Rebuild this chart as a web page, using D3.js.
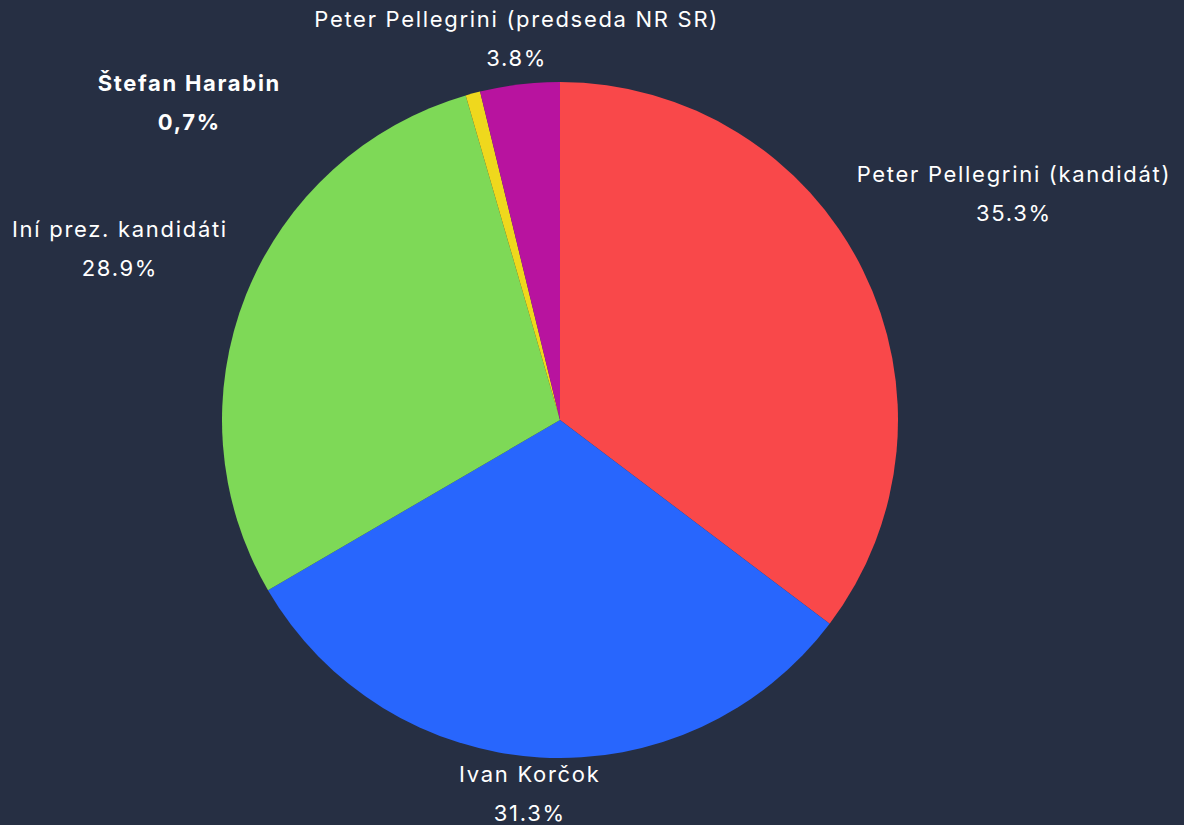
<!DOCTYPE html>
<html>
<head>
<meta charset="utf-8">
<script src="https://cdn.jsdelivr.net/npm/d3@7"></script>
<style>
  html, body { margin: 0; padding: 0; background: #262f43; }
  svg { display: block; }
</style>
</head>
<body>
<div id="chart"></div>
<script>
// Data
const names = ["Peter Pellegrini (kandidát)", "Ivan Korčok", "Iní prez. kandidáti", "Štefan Harabin", "Peter Pellegrini (predseda NR SR)"];
const values = [35.3, 31.3, 28.9, 0.7, 3.8];
const valueLabels = ["35.3%", "31.3%", "28.9%", "0,7%", "3.8%"];
const colors = ["#f9484a", "#2866fd", "#7ed957", "#efd81d", "#b8139f"];
const bold = [false, false, false, true, false];

const width = 1184, height = 825;
const cx = 560, cy = 420, radius = 338;

const svg = d3.select("#chart").append("svg")
  .attr("width", width)
  .attr("height", height);

svg.append("rect")
  .attr("width", width)
  .attr("height", height)
  .attr("fill", "#262f43");

const pie = d3.pie().sort(null).value(d => d.value);
const arc = d3.arc().innerRadius(0).outerRadius(radius);

const data = names.map((n, i) => ({ name: n, value: values[i], label: valueLabels[i], color: colors[i], bold: bold[i] }));
const arcs = pie(data);

const g = svg.append("g").attr("transform", `translate(${cx},${cy})`);

g.selectAll("path")
  .data(arcs)
  .enter()
  .append("path")
  .attr("d", arc)
  .attr("fill", d => d.data.color);

// Labels: placed on the mid angle at 1.5 x radius, then pushed into the frame
const labelArc = d3.arc().innerRadius(radius * 1.5).outerRadius(radius * 1.5);
// nudges for crowded labels near the top / left
const nudge = {
  "Štefan Harabin": [-240, 64],
  "Peter Pellegrini (predseda NR SR)": [17, 0],
  "Iní prez. kandidáti": [0, 17]
};

const labels = svg.append("g")
  .style("font-family", "Inter, 'Open Sans', sans-serif")
  .style("font-size", "22px")
  .style("letter-spacing", "1.7px")
  .style("fill", "#ffffff");

arcs.forEach(d => {
  const [lx, ly] = labelArc.centroid(d);
  const lab = labels.append("g");
  const t1 = lab.append("text")
    .attr("text-anchor", "middle")
    .attr("y", -12)
    .style("font-weight", d.data.bold ? 700 : 400)
    .text(d.data.name);
  lab.append("text")
    .attr("text-anchor", "middle")
    .attr("y", 27)
    .style("font-weight", d.data.bold ? 700 : 400)
    .text(d.data.label);

  const half = t1.node().getComputedTextLength() / 2;
  let x = cx + lx, y = cy + ly;
  x = Math.max(half + 12, Math.min(width - half - 4, x));
  y = Math.max(39, Math.min(794, y));
  if (nudge[d.data.name]) {
    x += nudge[d.data.name][0];
    y += nudge[d.data.name][1];
  }
  lab.attr("transform", `translate(${x},${y})`);
});
</script>
</body>
</html>
